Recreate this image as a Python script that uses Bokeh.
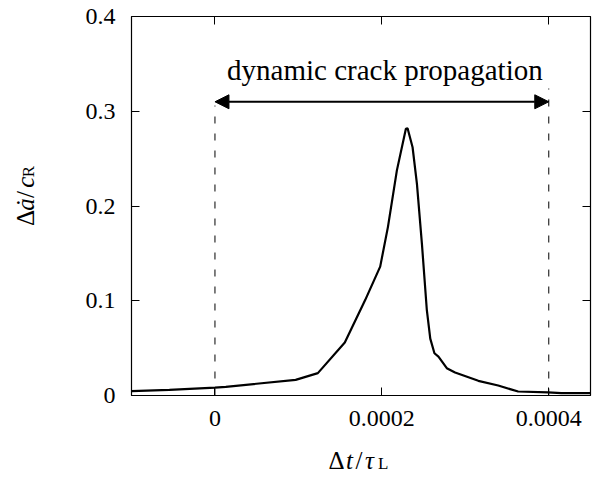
import math
from bokeh.plotting import figure
from bokeh.layouts import row, column
from bokeh.models import (Range1d, FixedTicker, LinearAxis, Label, Arrow, NormalHead,
                          ColumnDataSource, CustomLabelingPolicy)
from bokeh.embed import file_html
from bokeh.resources import INLINE

# ---------------- data ----------------
dt = [-0.0001, -0.0000546, 0.0, 0.000013, 0.0000967, 0.0001233, 0.0001556, 0.00018,
      0.000198, 0.0002073, 0.000218, 0.0002288, 0.0002308, 0.0002368, 0.000242,
      0.000248, 0.0002539, 0.000258, 0.000263, 0.0002678, 0.0002778, 0.0002877,
      0.0003156, 0.0003394, 0.0003633, 0.0003992, 0.000415, 0.00045]
da = [0.0046, 0.006, 0.0084, 0.0092, 0.0165, 0.0236, 0.056, 0.1007,
      0.136, 0.178, 0.2376, 0.2815, 0.282, 0.262, 0.2236,
      0.160, 0.090, 0.060, 0.0446, 0.041, 0.0288, 0.0242,
      0.0155, 0.0105, 0.0042, 0.0032, 0.0025, 0.0025]

x_ticks = [0.0, 0.0002, 0.0004]
x_tick_labels = ["0", "0.0002", "0.0004"]
y_ticks = [0.0, 0.1, 0.2, 0.3, 0.4]
y_tick_labels = ["0", "0.1", "0.2", "0.3", "0.4"]

prop_start = 0.0
prop_end = 0.0004
arrow_y = 0.31
dash_top_left = 0.306
dash_top_right = 0.324
annotation_text = "dynamic crack propagation"
annotation_y = 0.344

FONT = "Liberation Serif"

# layout sizes (pixels)
W, H = 594, 483
YLAB_W = 60          # strip holding the y-axis title
XLAB_H = 36          # strip holding the x-axis title
MAIN_W, MAIN_H = W - YLAB_W, H - XLAB_H


def blank_fig(w, h, xr, yr):
    f = figure(width=w, height=h, output_backend="svg", toolbar_location=None,
               x_range=xr, y_range=yr, min_border=0, x_axis_location=None,
               y_axis_location=None)
    f.grid.visible = False
    f.outline_line_color = None
    f.background_fill_color = "white"
    f.border_fill_color = "white"
    f.margin = (0, 0, 0, 0)
    return f


p = figure(width=MAIN_W, height=MAIN_H, output_backend="svg", toolbar_location=None,
           x_range=Range1d(-0.0001, 0.00045), y_range=Range1d(0.0, 0.4),
           min_border_left=131 - YLAB_W, min_border_right=2, min_border_top=16,
           min_border_bottom=MAIN_H - 395, x_axis_location=None, y_axis_location=None)
p.margin = (0, 0, 0, 0)
p.background_fill_color = "white"
p.border_fill_color = "white"
p.grid.visible = False
p.outline_line_color = "black"
p.outline_line_width = 1.2


def make_axis(ticks, labels, show_labels, standoff):
    ax = LinearAxis(ticker=FixedTicker(ticks=ticks))
    ax.major_label_overrides = {t: l for t, l in zip(ticks, labels)}
    ax.axis_line_color = None
    ax.major_tick_in = 8
    ax.major_tick_out = 0
    ax.major_tick_line_color = "black"
    ax.major_tick_line_width = 1
    ax.minor_tick_line_color = None
    ax.major_label_standoff = standoff
    ax.major_label_text_font = FONT
    ax.major_label_text_font_size = "24px"
    ax.major_label_text_color = "black"
    if not show_labels:
        # mirrored ticks only: no labels and no space taken
        ax.major_label_policy = CustomLabelingPolicy(code="return []")
        ax.major_label_text_font_size = "1px"
        ax.major_label_standoff = 0
    return ax


p.add_layout(make_axis(x_ticks, x_tick_labels, True, 15), "below")
p.add_layout(make_axis(y_ticks, y_tick_labels, True, 16), "left")
p.add_layout(make_axis(x_ticks, x_tick_labels, False, 0), "above")
p.add_layout(make_axis(y_ticks, y_tick_labels, False, 0), "right")

# dashed markers of the propagation window
p.segment(x0=[prop_start, prop_end], y0=[0, 0], x1=[prop_start, prop_end],
          y1=[dash_top_left, dash_top_right], line_color="black", line_width=1,
          line_dash="7 10")

# curve
src = ColumnDataSource(dict(x=dt, y=da))
p.line("x", "y", source=src, line_color="black", line_width=2.2)

# double arrow
p.add_layout(Arrow(start=NormalHead(size=14, fill_color="black", line_color="black"),
                   end=NormalHead(size=14, fill_color="black", line_color="black"),
                   x_start=prop_start, y_start=arrow_y, x_end=prop_end, y_end=arrow_y,
                   line_color="black", line_width=2))

p.add_layout(Label(x=(prop_start + prop_end) / 2, y=annotation_y, x_offset=3,
                   text=annotation_text, text_align="center", text_baseline="alphabetic",
                   text_font=FONT, text_font_size="29px", text_color="black"))

# ---- x-axis title strip: Δt/τ_L ----
xfig = blank_fig(W, XLAB_H, Range1d(0, W), Range1d(XLAB_H, 0))
xl_parts = [("Δ", "normal", "25px", 328.0, 13.0), ("t", "italic", "25px", 345.5, 13.0),
            ("/", "normal", "25px", 355.0, 13.0), ("τ", "italic", "25px", 364.5, 13.0),
            ("L", "normal", "17px", 377.5, 15.5)]
for txt, style, size, xx, yy in xl_parts:
    xfig.add_layout(Label(x=xx, y=yy, text=txt, text_font=FONT, text_font_style=style,
                          text_font_size=size, text_align="left",
                          text_baseline="alphabetic", text_color="black"))

# ---- y-axis title strip: Δȧ/c_R (rotated) ----
yfig = blank_fig(YLAB_W, MAIN_H, Range1d(0, YLAB_W), Range1d(MAIN_H, 0))
yl_parts = [("Δ", "normal", "25px", 25.0, 247.0), ("ȧ", "italic", "25px", 25.0, 229.0),
            ("/", "normal", "25px", 25.0, 214.0), ("c", "italic", "25px", 25.0, 202.0),
            ("R", "normal", "17px", 27.5, 189.5)]
for txt, style, size, xx, yy in yl_parts:
    yfig.add_layout(Label(x=xx, y=yy, text=txt, angle=math.pi / 2, text_font=FONT,
                          text_font_style=style, text_font_size=size, text_align="left",
                          text_baseline="alphabetic", text_color="black"))

layout = column(row(yfig, p, spacing=0), xfig, spacing=0)
open("out.html", "w").write(file_html(layout, INLINE))
